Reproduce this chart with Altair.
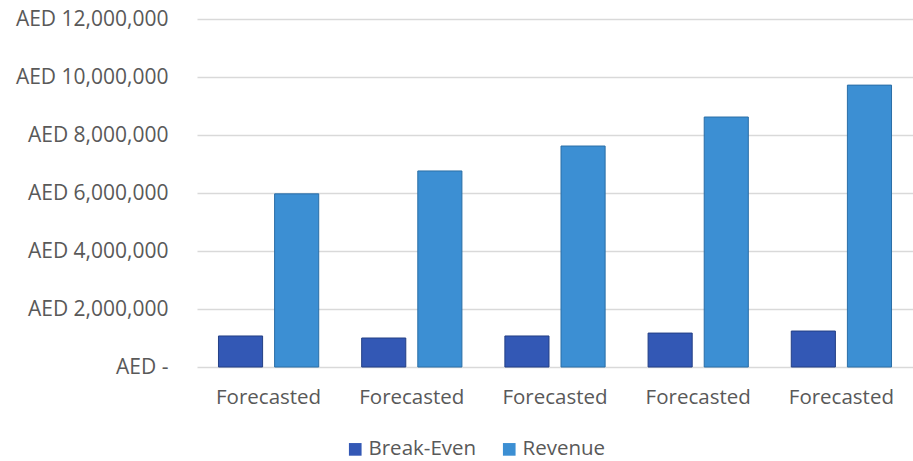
import altair as alt
import pandas as pd

categories = ["Forecasted"] * 5
periods = [0, 1, 2, 3, 4]
break_even = [1070000, 1000000, 1070000, 1170000, 1240000]
revenue = [5970000, 6760000, 7620000, 8620000, 9720000]
series = ["Break-Even", "Revenue"]
y_ticks = [0, 2000000, 4000000, 6000000, 8000000, 10000000, 12000000]

rows = []
for p, c, b, r in zip(periods, categories, break_even, revenue):
    rows.append({"period": p, "category": c, "series": "Break-Even", "value": b})
    rows.append({"period": p, "category": c, "series": "Revenue", "value": r})
df = pd.DataFrame(rows)

FONT = "Open Sans"
GREY = "#595959"

chart = (
    alt.Chart(df)
    .mark_bar(strokeWidth=1)
    .encode(
        x=alt.X(
            "period:O",
            scale=alt.Scale(paddingInner=0.3, paddingOuter=0.15),
            axis=alt.Axis(
                title=None,
                labelExpr="'Forecasted'",
                labelAngle=0,
                labelFont=FONT,
                labelFontSize=20.5,
                labelColor=GREY,
                labelPadding=20,
                ticks=False,
                domain=False,
                grid=False,
            ),
        ),
        xOffset=alt.XOffset(
            "series:N",
            sort=series,
            scale=alt.Scale(paddingInner=0.214, paddingOuter=0),
        ),
        y=alt.Y(
            "value:Q",
            scale=alt.Scale(domain=[0, 12000000], nice=False),
            axis=alt.Axis(
                title=None,
                values=y_ticks,
                labelExpr="datum.value == 0 ? 'AED -' : 'AED ' + format(datum.value, ',')",
                labelFont=FONT,
                labelFontSize=21,
                labelColor=GREY,
                labelPadding=29,
                ticks=False,
                domain=False,
                gridColor="#D9D9D9",
                gridWidth=1.5,
            ),
        ),
        color=alt.Color(
            "series:N",
            sort=series,
            scale=alt.Scale(domain=series, range=["#3358B5", "#3C8FD3"]),
            legend=alt.Legend(
                title=None,
                orient="none",
                direction="horizontal",
                legendX=148,
                legendY=420,
                symbolType="square",
                symbolSize=160,
                symbolStrokeWidth=0,
                labelFont=FONT,
                labelFontSize=20.5,
                labelColor=GREY,
                columnPadding=22,
                labelOffset=3,
            ),
        ),
        stroke=alt.Stroke(
            "series:N",
            sort=series,
            scale=alt.Scale(domain=series, range=["#233F85", "#2A6EA6"]),
            legend=None,
        ),
    )
    .properties(
        width=716,
        height=348,
        autosize=alt.AutoSizeParams(type="none"),
        padding={"left": 197, "top": 19, "right": 0, "bottom": 94},
    )
    .configure_view(stroke=None)
)

chart.save("out.html", embed_options={"renderer": "svg", "actions": False})
